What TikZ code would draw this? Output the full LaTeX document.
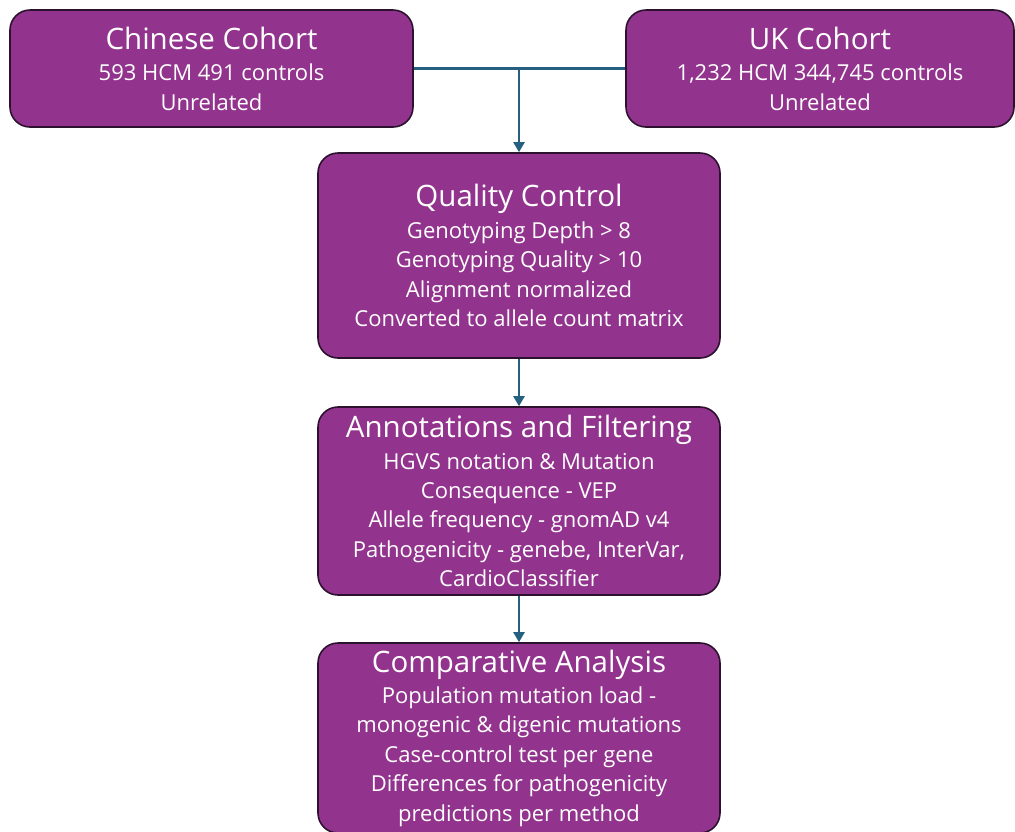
\documentclass[tikz,border=0pt]{standalone}
\usepackage{fontspec}
\setmainfont{Open Sans}
\usetikzlibrary{arrows.meta}
\definecolor{hcmpurple}{RGB}{146, 52, 141}
\definecolor{hcmedge}{RGB}{45, 18, 48}
\definecolor{hcmarrow}{RGB}{38, 96, 128}
\newcommand{\boxtitle}[1]{{\fontsize{29.5}{32}\selectfont #1}\\[2pt]}
\tikzset{
  stepbox/.style={rectangle, rounded corners=20pt, draw=hcmedge, line width=1.6pt,
    fill=hcmpurple, text=white, align=center, inner sep=0pt,
    font=\fontsize{22}{29.4}\selectfont},
  flowarrow/.style={draw=hcmarrow, line width=2.2pt,
    -{Triangle[width=11pt,length=10pt]}},
  flowline/.style={draw=hcmarrow, line width=2.2pt}
}
\begin{document}
\begin{tikzpicture}[x=1pt, y=-1pt]
\useasboundingbox (0,0) rectangle (1015,831);
% Cohorts
\node[stepbox, minimum width=403pt, minimum height=117pt] (chn) at (211.5,68.5)
  {\boxtitle{Chinese Cohort}593 HCM 491 controls\\Unrelated};
\node[stepbox, minimum width=388pt, minimum height=117pt] (uk) at (820,68.5)
  {\boxtitle{UK Cohort}1,232 HCM 344,745 controls\\Unrelated};

% Pipeline steps
\node[stepbox, minimum width=402pt, minimum height=205pt] (qc) at (519,255.5)
  {\boxtitle{Quality Control}Genotyping Depth > 8\\Genotyping Quality > 10\\
   Alignment normalized\\Converted to allele count matrix};
\node[stepbox, minimum width=402pt, minimum height=188pt] (anno) at (519,501)
  {\boxtitle{Annotations and Filtering}HGVS notation \& Mutation\\Consequence - VEP\\
   Allele frequency - gnomAD v4\\Pathogenicity - genebe, InterVar,\\CardioClassifier};
\node[stepbox, minimum width=402pt, minimum height=190pt] (comp) at (519,738)
  {\boxtitle{Comparative Analysis}Population mutation load -\\monogenic \& digenic mutations\\
   Case-control test per gene\\Differences for pathogenicity\\predictions per method};

% Connectors
\draw[flowline] (chn.east) -- (uk.west);
\draw[flowarrow] (chn.east -| qc.north) -- (qc.north);
\draw[flowarrow] (qc.south) -- (anno.north);
\draw[flowarrow] (anno.south) -- (comp.north);
\end{tikzpicture}
\end{document}
